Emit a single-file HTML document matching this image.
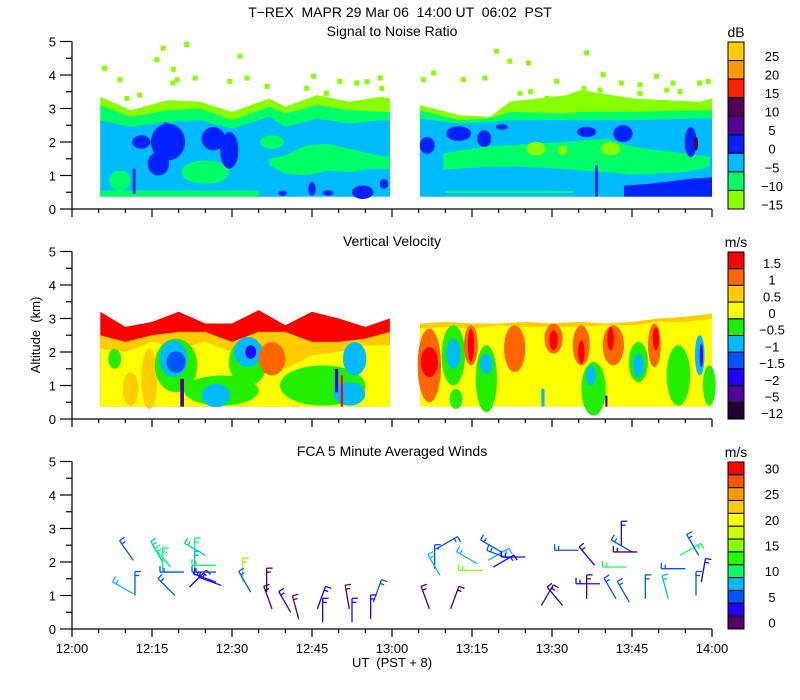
<!DOCTYPE html>
<html><head><meta charset="utf-8">
<style>
html,body{margin:0;padding:0;background:#fff;}
svg{display:block;font-family:"Liberation Sans",sans-serif;}
text{fill:#000;}
</style></head>
<body>
<svg id="chart" width="800" height="700" viewBox="0 0 800 700" xmlns="http://www.w3.org/2000/svg">
<text x="400" y="17" font-size="14" text-anchor="middle" xml:space="preserve">T−REX  MAPR 29 Mar 06  14:00 UT  06:02  PST</text>
<text x="392" y="36" font-size="14" text-anchor="middle">Signal to Noise Ratio</text>
<text x="392" y="246" font-size="14" text-anchor="middle">Vertical Velocity</text>
<text x="392" y="456" font-size="14" text-anchor="middle">FCA 5 Minute Averaged Winds</text>
<text transform="translate(40,335) rotate(-90)" font-size="13" text-anchor="middle" xml:space="preserve">Altitude  (km)</text>
<text x="392" y="667" font-size="13" text-anchor="middle" xml:space="preserve">UT  (PST + 8)</text>
<g id="plots"></g>
</svg>
<script>
// ---------- data ----------
const xTickLabels = ["12:00","12:15","12:30","12:45","13:00","13:15","13:30","13:45","14:00"];
const yTickLabels = ["0","1","2","3","4","5"];
const snrColors = ["#ffcc00","#ff9900","#ff2200","#550055","#550099","#0022ff","#00bbff","#00ff66","#88ff00"];
const snrLabels = ["25","20","15","10","5","0","−5","−10","−15"];
const vvColors = ["#ff0000","#ff6600","#ffcc00","#ffff00","#22ee00","#00bbff","#0055ff","#2200ff","#550099","#220033"];
const vvLabels = ["1.5","1","0.5","0","−0.5","−1","−1.5","−2","−5","−12"];
const windColors = ["#ff0000","#ff5500","#ff9900","#ffcc00","#ffff00","#ccff00","#88ff00","#22ff00","#00ff66","#00bbff","#0055ff","#2200ff","#550066"];
const windLabels = ["30","","25","","20","","15","","10","","5","","0"];

// SNR segment 1 boundaries (minutes after 12:00, km)
const snrT1 = [5.3,11,18,24,30,37,40,46,52,58,59.6];
const snrLime1 = [3.35,2.95,3.25,3.2,2.9,3.3,3.05,3.4,3.2,3.35,3.3];
const snrGreen1 = [3.1,2.75,2.95,3.0,2.65,3.05,2.85,3.1,2.95,2.9,2.9];
const snrBlue1 = [2.65,2.45,2.6,2.65,2.4,2.75,2.45,2.7,2.55,2.65,2.65];
// SNR segment 2
const snrT2 = [65.25,72.75,78.4,82.1,92.8,95.25,105.2,117.75,120];
const snrLime2 = [3.1,2.8,2.75,3.2,3.4,3.55,3.3,3.2,3.3];
const snrGreen2 = [2.95,2.65,2.7,2.9,2.85,2.9,2.9,2.95,2.95];
const snrBlue2 = [2.7,2.55,2.6,2.65,2.65,2.65,2.65,2.7,2.7];
// mid green bands
const snrMidT1 = [37,40,44,48,52,56,59.6];
const snrMidTop1 = [1.5,1.6,1.9,1.95,1.8,1.65,1.55];
const snrMidBot1 = [1.3,1.05,1.0,1.15,1.1,1.2,1.2];
const snrMidT2 = [69.6,77.1,83.4,91.5,100.3,105.2,114.7,119.6];
const snrMidTop2 = [1.66,1.86,1.92,2.0,2.1,1.86,1.66,1.56];
const snrMidBot2 = [1.17,1.25,1.27,1.2,1.1,1.02,1.1,1.25];
// bottom strong band (right)
const snrLowT = [103.5,108,112,116,120];
const snrLowTop = [0.7,0.75,0.82,0.9,0.95];
// blobs: [t, alt, halfWidthMin, halfHeightKm, colorIndex]
const snrBlobs = [
 [9,0.85,2,0.3,7],[25,1.1,4.5,0.35,7],[37.5,2.0,2.2,0.2,7],
 [18,2.0,3.2,0.55,5],[16.2,1.35,2,0.35,5],[26.5,2.1,2.2,0.35,5],[29.5,1.75,1.7,0.55,5],
 [13,2.0,1.7,0.2,5],[17.5,2.5,0.4,0.1,5],[39.5,0.47,0.8,0.08,5],[45,0.6,0.7,0.2,5],
 [48,0.48,1,0.08,5],[54.5,0.5,2,0.2,5],[58.5,0.75,0.8,0.15,5],
 [87,1.8,1.8,0.2,8],[101,1.8,1.8,0.2,8],[92,1.75,0.9,0.15,8],
 [66.6,1.9,1.4,0.25,5],[72.5,2.25,2.3,0.22,5],[77.3,2.1,1.3,0.25,5],[80.6,2.45,1.1,0.08,5],
 [96.5,2.3,1.8,0.15,5],[103.3,2.25,1.8,0.25,5],[116,2.0,1.1,0.45,5],[117,1.95,0.4,0.2,3]
];
// rectangular strips: [t0, t1, alt0, alt1, colorIndex]
const snrStrips = [[5.3,35,0.37,0.55,7],[70,94,0.48,0.54,7],[11.4,11.9,0.45,1.2,5],[98.1,98.6,0.37,1.3,5]];
// lime specks above the layer: [t, alt]
const snrSpecks = [[15.9,4.46],[18.9,3.76],[19.7,3.86],[23.1,3.91],[19,4.17],[29.6,3.81],[32.8,3.91],[36.6,3.66],[45.3,3.96],[53.4,3.76],[55.3,3.8],[57.8,3.91],[58.1,3.6],[9,3.86],[6.1,4.2],[10.3,3.3],[21.5,4.91],[17.1,4.8],[12.7,3.4],[31.5,4.56],[44,3.6],[50.2,3.81],[47.7,3.45],
 [65.9,3.86],[67.8,4.06],[73.4,3.86],[77.4,3.91],[82.1,4.41],[85.6,4.36],[90.9,3.81],[96.5,4.66],[99.6,4.01],[103,3.76],[106.5,3.71],[109.6,3.96],[112.7,3.76],[117.7,3.76],[119.3,3.81],[79.6,4.71],[93.4,3.35],[89.1,3.3],[99,3.55],[106.5,3.45],[111.5,3.55],[86,3.5],[84,3.45],[96,3.6],[114,3.5]];

// Vertical velocity
const vvT1 = [5.3,10,15,20,25,30,35,40,45,50,55,59.6];
const vvTop1 = [3.2,2.75,2.9,3.2,2.85,2.85,3.25,2.8,3.2,3.0,2.75,3.0];
const vvRed1 = [2.5,2.3,2.5,2.6,2.6,2.3,2.6,2.6,2.3,2.3,2.4,2.6];
const vvOrange1 = [2.1,2.0,2.3,2.1,2.3,2.0,1.5,1.5,1.9,2.0,2.2,2.2];
const vvT2 = [65.25,70,75,80,85,90,95,100,105,110,115,120];
const vvTop2 = [2.85,2.9,2.85,2.85,2.9,2.85,2.9,2.85,2.9,3.0,3.05,3.15];
const vvRed2 = [2.7,2.75,2.7,2.8,2.75,2.75,2.75,2.8,2.8,2.9,2.9,3.0];
// blobs: [t, alt, halfWidthMin, halfHeightKm, colorIndex]
const vvBlobs = [
 [11,0.9,1.5,0.5,2],[14.5,1.2,1.5,0.9,2],[19.5,1.6,4,0.8,4],[19,1.8,2.6,0.55,5],[19.5,1.7,1.8,0.32,6],
 [28,0.85,7,0.45,4],[27,0.7,2.6,0.35,5],[33,1.7,3.6,0.7,4],[33,2.0,2.6,0.45,5],[33.5,2.0,1,0.2,7],
 [47,1.0,8,0.6,4],[53,1.8,2.2,0.5,5],[52,0.75,3,0.35,5],[8,1.8,1.2,0.3,4],[37.5,1.8,2.5,0.5,1],
 [67,1.6,2.2,1.1,1],[67,1.7,1.6,0.45,0],[71.5,1.9,2.2,0.9,4],[71.5,1.95,1.3,0.45,5],
 [74.8,2.2,1.3,0.6,1],[74.8,2.2,0.6,0.5,0],[77.7,1.2,2,1.0,4],[77.7,1.65,1.2,0.3,5],
 [83,2.1,2,0.7,1],[90.3,2.4,1.7,0.45,1],[90.3,2.35,0.8,0.3,0],[95.5,2.2,1.6,0.6,1],[95.5,2.0,0.6,0.35,0],
 [97.8,0.9,2.3,0.8,4],[97.3,1.3,0.9,0.3,5],[101.5,2.2,2,0.6,1],[101,2.4,0.6,0.35,0],
 [106.2,1.7,1.8,0.6,4],[106.2,1.6,1.0,0.35,5],[109.2,2.2,1.2,0.65,1],[109.5,2.4,0.6,0.35,0],
 [113.7,1.3,2.2,0.9,4],[117.7,1.9,0.9,0.6,5],[118,1.9,0.3,0.35,7],[119.5,1.0,1.2,0.6,4],[72,0.6,1.2,0.3,4]
];
const vvStrips = [[20.3,21,0.37,1.2,8],[49.3,49.9,0.8,1.5,7],[50.4,50.8,0.37,1.3,0],[88,88.6,0.37,0.9,5],[100,100.4,0.37,0.7,7]];

// Winds: [t, alt, shaftAngleDeg, colorIndex]
const windBarbs = [
 [11.5,2.05,325,10],[11.5,1.05,300,9],[11.8,1.0,0,10],[17,2.0,330,9],[17,1.7,0,8],[18.5,1.85,320,8],
 [19.3,1.0,315,10],[22,1.25,45,11],[23,2.0,0,8],[23,1.6,0,9],[21,1.7,270,10],[25,2.2,300,9],
 [27,1.9,270,8],[27,1.7,270,10],[27,1.4,290,11],[28,1.3,290,11],[32,1.4,0,6],[33.5,1.1,330,10],
 [36.5,1.1,0,12],[37.5,0.6,340,12],[41,0.5,330,11],[42.5,0.3,345,12],[46,0.6,20,11],[47,0.2,0,11],
 [52,0.6,350,12],[52.5,0.2,0,11],[56.5,0.8,20,10],[56,0.3,0,11],
 [68.4,2.4,60,10],[68,1.8,0,10],[69,1.6,330,9],[76,1.95,300,9],[77,1.75,270,6],[78,2.05,60,9],[79,1.85,60,11],
 [80.5,2.3,300,10],[82,2.1,290,10],[85,2.15,270,11],[95,2.35,270,10],[98,1.9,320,11],[105,2.3,300,10],
 [103,2.5,0,11],[106,2.3,270,12],[104,1.85,270,8],[114,2.2,60,8],[117.5,2.2,330,10],[115,1.8,270,10],
 [67,0.6,340,12],[71,0.6,20,12],[88,0.7,30,11],[92,0.7,320,12],[96.5,0.9,0,12],[99,1.35,270,11],
 [102,0.9,330,10],[107.5,0.9,0,10],[111.8,0.9,345,9],[117,1.0,0,10],[104.5,0.8,330,10],[118,1.4,10,11]
];

// ---------- drawing ----------
const NS = "http://www.w3.org/2000/svg";
const root = document.getElementById('plots');
const X = t => 72 + t*640/120;
const panels = [{y0:209, name:'snr'},{y0:419, name:'vv'},{y0:629, name:'wind'}];
const K = 33.5;
function Y(p, a){ return panels[p].y0 - a*K; }
function mk(tag, attrs, parent){
  const el = document.createElementNS(NS, tag);
  for (const k in attrs) el.setAttribute(k, attrs[k]);
  (parent||root).appendChild(el);
  return el;
}
function band(p, ts, top, bot, color, name){
  let pts = ts.map((t,i)=>X(t).toFixed(1)+','+Y(p,top[i]).toFixed(1));
  for (let i=ts.length-1;i>=0;i--){
    const b = Array.isArray(bot) ? bot[i] : bot;
    pts.push(X(ts[i]).toFixed(1)+','+Y(p,b).toFixed(1));
  }
  const el = mk('polygon',{points:pts.join(' '), fill:color});
  
  
}
function blobs(p, list, colors, name){
  list.forEach(b=>{
    const el = mk('ellipse',{cx:X(b[0]), cy:Y(p,b[1]), rx:b[2]*640/120, ry:b[3]*K, fill:colors[b[4]]});
    
    
  });
}
function strips(p, list, colors, name){
  list.forEach(s=>{
    const el = mk('rect',{x:X(s[0]), y:Y(p,s[3]), width:X(s[1])-X(s[0]), height:(s[3]-s[2])*K, fill:colors[s[4]]});
    
    
  });
}
const BOT = 0.37;
// SNR
band(0, snrT1, snrLime1, BOT, snrColors[8], 'snr-lime-layer');
band(0, snrT1, snrGreen1, BOT, snrColors[7], 'snr-green-layer');
band(0, snrT1, snrBlue1, BOT, snrColors[6], 'snr-blue-layer');
band(0, snrT2, snrLime2, BOT, snrColors[8], 'snr-lime-layer');
band(0, snrT2, snrGreen2, BOT, snrColors[7], 'snr-green-layer');
band(0, snrT2, snrBlue2, BOT, snrColors[6], 'snr-blue-layer');
band(0, snrMidT1, snrMidTop1, snrMidBot1, snrColors[7], 'snr-mid-band');
band(0, snrMidT2, snrMidTop2, snrMidBot2, snrColors[7], 'snr-mid-band');
band(0, snrLowT, snrLowTop, BOT, snrColors[5], 'snr-low-band');
strips(0, snrStrips, snrColors, 'snr-strip');
blobs(0, snrBlobs, snrColors, 'snr-blob');
snrSpecks.forEach(s=>{
  const el = mk('rect',{x:X(s[0])-2.5, y:Y(0,s[1])-2.5, width:5, height:5, fill:snrColors[8]});
  
  
});
// VV
band(1, vvT1, vvTop1, BOT, vvColors[0], 'vv-red-layer');
band(1, vvT1, vvRed1, BOT, vvColors[2], 'vv-orange-layer');
band(1, vvT1, vvOrange1, BOT, vvColors[3], 'vv-yellow-layer');
band(1, vvT2, vvTop2, BOT, vvColors[2], 'vv-top-layer');
band(1, vvT2, vvRed2, BOT, vvColors[3], 'vv-yellow-layer');
blobs(1, vvBlobs, vvColors, 'vv-blob');
strips(1, vvStrips, vvColors, 'vv-strip');
// Winds
windBarbs.forEach(b=>{
  const x = X(b[0]), y = Y(2,b[1]), a = b[2]*Math.PI/180, L = 24;
  const ex = x + L*Math.sin(a), ey = y - L*Math.cos(a);
  const g = mk('g',{stroke:windColors[b[3]], 'stroke-width':1.3, fill:'none'});
  
  
  mk('line',{x1:x,y1:y,x2:ex,y2:ey}, g);
  const px = Math.cos(a)*6, py = Math.sin(a)*6;
  mk('line',{x1:ex,y1:ey,x2:ex+px,y2:ey+py}, g);
  const mx = x + (L-4)*Math.sin(a), my = y - (L-4)*Math.cos(a);
  mk('line',{x1:mx,y1:my,x2:mx+px*0.7,y2:my+py*0.7}, g);
});
// Axes
panels.forEach((p,pi)=>{
  const ax = mk('g',{stroke:'#000','stroke-width':1.2});
  
  
  mk('line',{x1:72,y1:p.y0-5*K,x2:72,y2:p.y0+0.5},ax);
  mk('line',{x1:72,y1:p.y0,x2:712,y2:p.y0},ax);
  for(let i=0;i<=10;i++){
    const yy = Y(pi, i/2);
    mk('line',{x1:i%2?66:60,y1:yy,x2:72,y2:yy},ax);
  }
  for(let m=0;m<=120;m+=5){
    const xx = X(m);
    mk('line',{x1:xx,y1:p.y0,x2:xx,y2:p.y0+(m%15?4:8)},ax);
  }
  yTickLabels.forEach((l,i)=>{
    const t = mk('text',{x:56,y:Y(pi,i)+5,'font-size':13,'text-anchor':'end'});
    t.textContent = l;
    
    
  });
});
xTickLabels.forEach((l,i)=>{
  const t = mk('text',{x:X(i*15),y:653,'font-size':13,'text-anchor':'middle'});
  t.textContent = l;
  
  
});
// Colorbars
function colorbar(top, bottom, colors, labels, unit, labelOffset, name){
  const h = (bottom-top)/colors.length;
  const g = mk('g',{});
  
  
  colors.forEach((c,i)=>{
    const r = mk('rect',{x:728,y:top+i*h,width:16,height:h,fill:c,stroke:'#000','stroke-width':1},g);
    
    
  });
  labels.forEach((l,i)=>{
    if(!l) return;
    const t = mk('text',{x:772,y:top+i*h+labelOffset(h)+5,'font-size':13,'text-anchor':'middle'},g);
    t.textContent = l;
    
    
  });
  const u = mk('text',{x:736,y:top-5,'font-size':14,'text-anchor':'middle'},g);
  u.textContent = unit;
  
  
}
colorbar(42, 209, snrColors, snrLabels, 'dB', h=>h*0.75, 'snr-colorbar');
colorbar(252, 419, vvColors, vvLabels, 'm/s', h=>h*0.65, 'vv-colorbar');
colorbar(462, 629, windColors, windLabels, 'm/s', h=>h*0.5, 'wind-colorbar');
</script>
</body></html>
